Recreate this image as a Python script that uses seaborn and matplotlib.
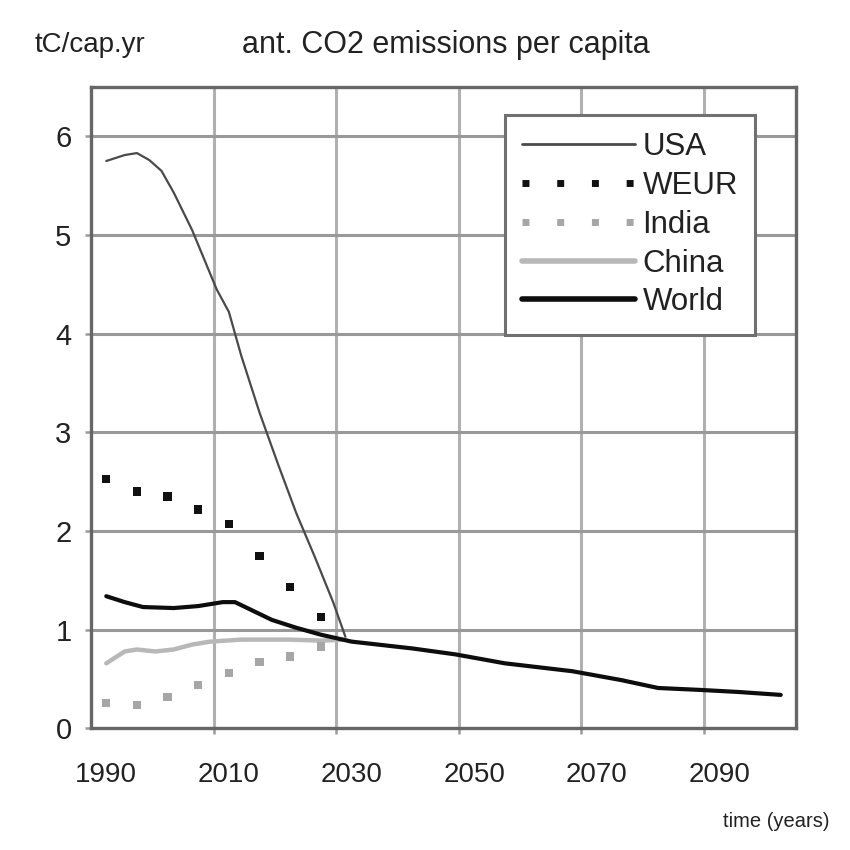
import matplotlib
matplotlib.use("Agg")
import matplotlib.pyplot as plt
from matplotlib.lines import Line2D
import pandas as pd
import seaborn as sns

# Per-capita anthropogenic CO2 emissions (tC per capita per year)
usa_years = [1990, 1993, 1995, 1997, 1999, 2001, 2004, 2006, 2008, 2010,
             2012, 2015, 2018, 2021, 2024, 2027, 2029]
usa_values = [5.75, 5.81, 5.83, 5.76, 5.65, 5.43, 5.05, 4.75, 4.45, 4.22,
              3.78, 3.20, 2.68, 2.18, 1.74, 1.28, 0.93]

weur_years = [1990, 1995, 2000, 2005, 2010, 2015, 2020, 2025]
weur_values = [2.53, 2.40, 2.35, 2.22, 2.07, 1.75, 1.43, 1.13]

india_years = [1990, 1995, 2000, 2005, 2010, 2015, 2020, 2025]
india_values = [0.26, 0.24, 0.32, 0.44, 0.56, 0.67, 0.73, 0.83]

china_years = [1990, 1993, 1995, 1998, 2001, 2004, 2007, 2012, 2020, 2025, 2029]
china_values = [0.66, 0.78, 0.80, 0.78, 0.80, 0.85, 0.88, 0.90, 0.90, 0.89, 0.90]

world_years = [1990, 1993, 1996, 2001, 2005, 2009, 2011, 2013, 2017, 2021,
               2025, 2030, 2040, 2047, 2055, 2066, 2074, 2080, 2087, 2093, 2100]
world_values = [1.34, 1.28, 1.23, 1.22, 1.24, 1.28, 1.28, 1.22, 1.10, 1.02,
                0.95, 0.88, 0.81, 0.75, 0.66, 0.58, 0.49, 0.41, 0.39, 0.37, 0.34]

series_names = ["USA", "WEUR", "India", "China", "World"]
x_tick_years = [1990, 2010, 2030, 2050, 2070, 2090]
x_tick_labels = ["1990", "2010", "2030", "2050", "2070", "2090"]
y_ticks = [0, 1, 2, 3, 4, 5, 6]

sns.set_style("white")
plt.rcParams["font.family"] = ["Liberation Sans", "DejaVu Sans"]

fig = plt.figure(figsize=(8.5, 8.5), dpi=100)
ax = fig.add_axes([0.107, 0.143, 0.8295, 0.7547])

usa = pd.DataFrame({"year": usa_years, "value": usa_values})
weur = pd.DataFrame({"year": weur_years, "value": weur_values})
india = pd.DataFrame({"year": india_years, "value": india_values})
china = pd.DataFrame({"year": china_years, "value": china_values})
world = pd.DataFrame({"year": world_years, "value": world_values})

c_usa, c_weur, c_india, c_china, c_world = "#4a4a4a", "#111111", "#a6a6a6", "#b8b8b8", "#0d0d0d"

sns.lineplot(data=china, x="year", y="value", ax=ax, color=c_china, lw=3.2, zorder=3)
sns.scatterplot(data=india, x="year", y="value", ax=ax, color=c_india, marker="s",
                s=36, edgecolor="none", zorder=3)
sns.scatterplot(data=weur, x="year", y="value", ax=ax, color=c_weur, marker="s",
                s=36, edgecolor="none", zorder=4)
sns.lineplot(data=usa, x="year", y="value", ax=ax, color=c_usa, lw=1.6, zorder=4)
sns.lineplot(data=world, x="year", y="value", ax=ax, color=c_world, lw=3.0, zorder=5)

ax.set_xlim(1987.5, 2102.5)
ax.set_ylim(0, 6.5)
ax.set_xlabel("")
ax.set_ylabel("")

# labels sit on the data years, grid/ticks fall between the 5-year categories
ax.set_xticks(x_tick_years)
ax.set_xticklabels(x_tick_labels)
ax.set_xticks([2007.5, 2027.5, 2047.5, 2067.5, 2087.5], minor=True)
ax.set_yticks(y_ticks)
ax.tick_params(axis="x", which="major", length=0, pad=24, labelsize=20, colors="#222222")
ax.tick_params(axis="x", which="minor", length=4, width=1.8, color="#9a9a9a", direction="out", bottom=True)
ax.tick_params(axis="y", which="major", length=4, width=1.8, color="#9a9a9a", direction="out",
               left=True, pad=10, labelsize=21, labelcolor="#222222")

ax.grid(False)
ax.grid(True, axis="x", which="minor", color="#b0b0b0", lw=2.2)
ax.grid(True, axis="y", which="major", color="#999999", lw=2.2)
ax.set_axisbelow(True)
for sp in ax.spines.values():
    sp.set_visible(True)
    sp.set_color("#666666")
    sp.set_linewidth(2.4)

handles = [
    Line2D([], [], color=c_usa, lw=2.0),
    Line2D([], [], color=c_weur, lw=5, linestyle=(0, (1, 4))),
    Line2D([], [], color=c_india, lw=5, linestyle=(0, (1, 4))),
    Line2D([], [], color=c_china, lw=4),
    Line2D([], [], color=c_world, lw=4),
]
leg = ax.legend(handles, series_names, loc="upper right", bbox_to_anchor=(0.942, 0.956),
                borderaxespad=0, fontsize=22.5, frameon=True, fancybox=False,
                handlelength=3.6, handletextpad=0.25, labelspacing=0.28,
                borderpad=0.55, framealpha=1, edgecolor="#707070")
leg.get_frame().set_linewidth(2.2)
for t in leg.get_texts():
    t.set_color("#222222")

fig.text(0.524, 0.947, "ant. CO2 emissions per capita", ha="center", va="center",
         fontsize=22, color="#222222")
fig.text(0.041, 0.947, "tC/cap.yr", ha="left", va="center", fontsize=20, color="#222222")
fig.text(0.976, 0.033, "time (years)", ha="right", va="center", fontsize=14.5, color="#222222")

fig.savefig("out.png", dpi=100, facecolor="white")
